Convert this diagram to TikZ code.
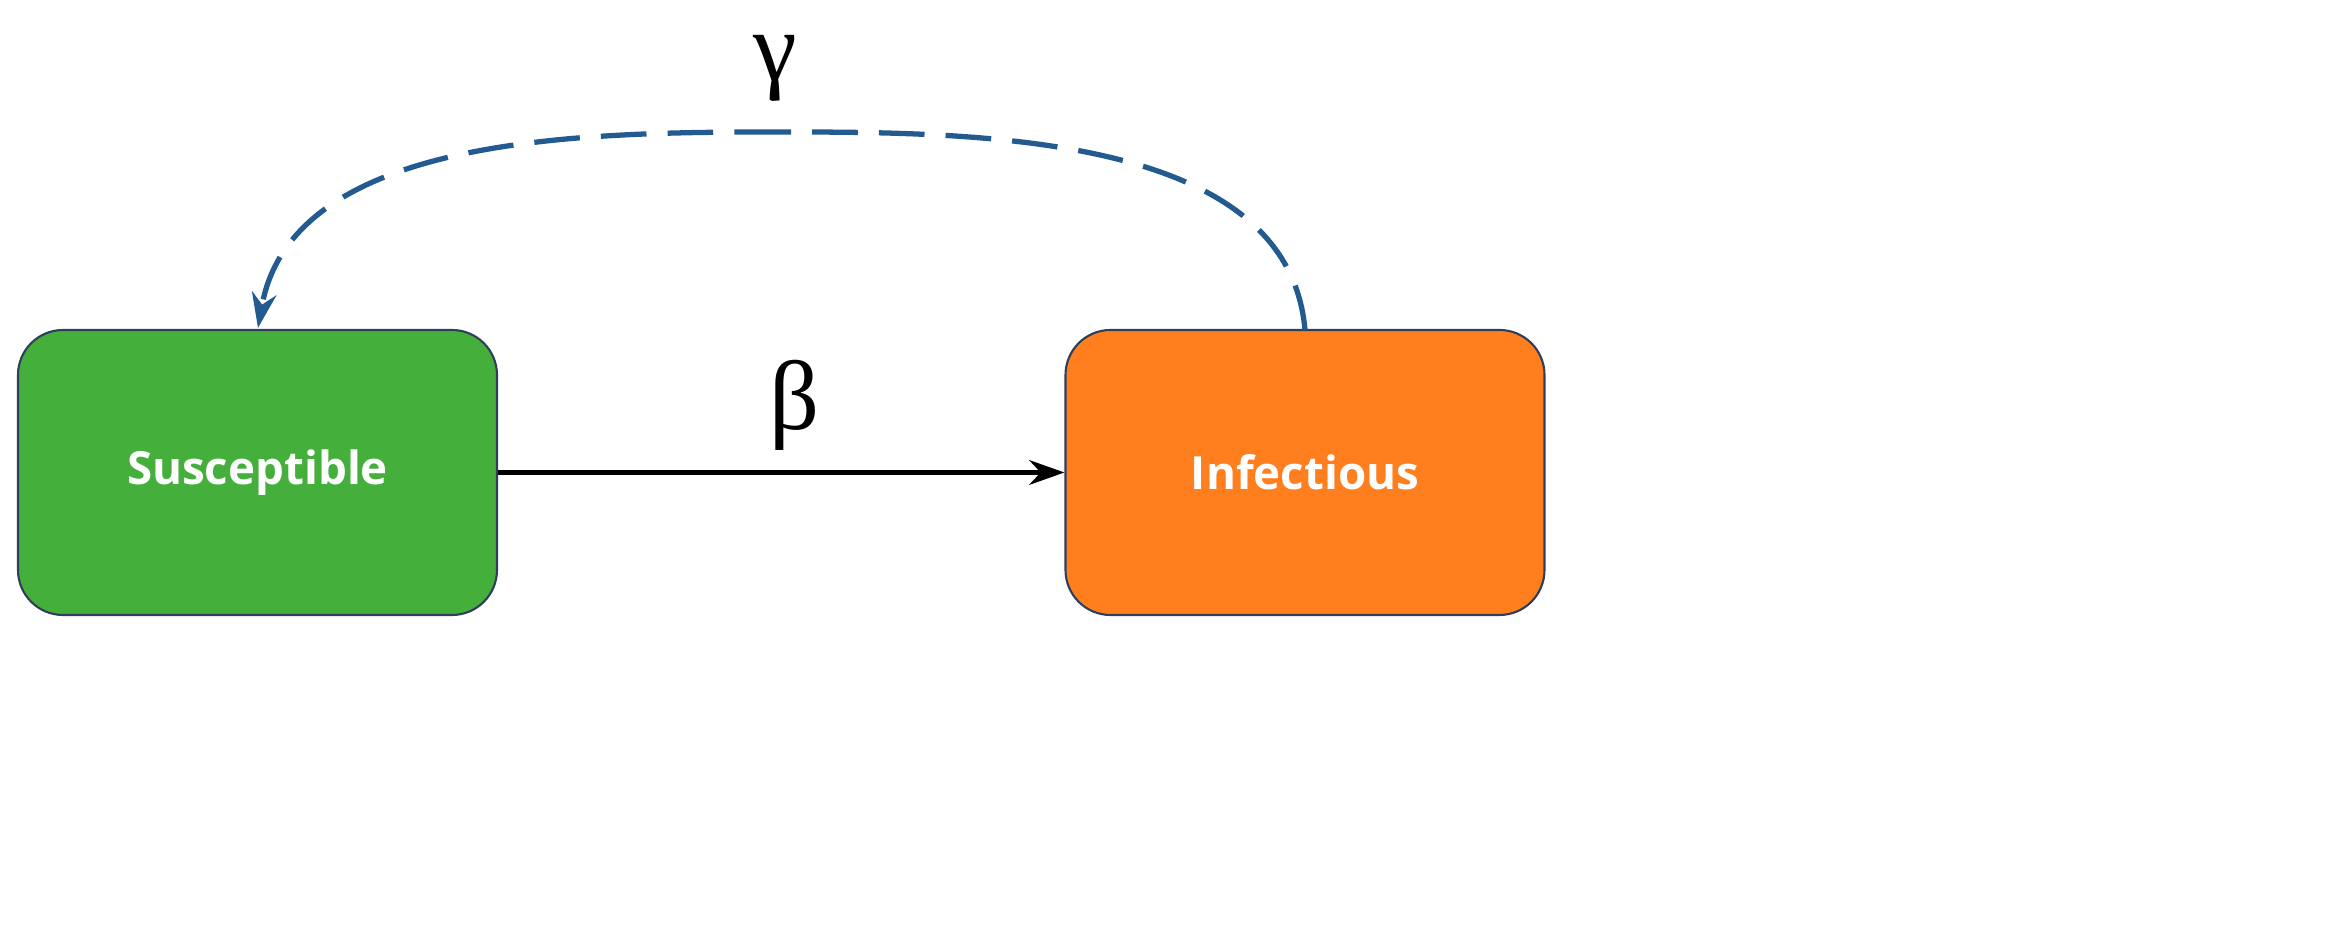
\documentclass[tikz,border=0pt]{standalone}
\usepackage{fontspec}
\setsansfont{Open Sans}
\newfontfamily\greekfont{Liberation Serif}
\usetikzlibrary{arrows.meta}
\definecolor{sgreen}{HTML}{44B03B}
\definecolor{iorange}{HTML}{FF7F1F}
\definecolor{dblue}{HTML}{235A8F}
\definecolor{edge}{HTML}{2F3E5A}
\begin{document}
\begin{tikzpicture}[
  box/.style={draw=edge,line width=0.6pt,rounded corners=0.45cm,minimum width=4.79cm,minimum height=2.85cm,
    text=white,font=\sffamily\bfseries\fontsize{13}{15}\selectfont},
  lab/.style={font=\greekfont\fontsize{28}{32}\selectfont}]
\path[use as bounding box] (0,0) rectangle (23.52,-9.51);
\node[box,fill=sgreen] (s) at (2.575,-4.725) {Susceptible};
\node[box,fill=iorange] (i) at (13.05,-4.725) {Infectious};
\draw[line width=1.5pt,-{Stealth[length=10pt,width=7pt]}] (s.east) -- (i.west);
\node[lab] (b) at (7.95,-4.05) {β};
\coordinate (top) at (7.8,-1.32);
\coordinate (st) at (13.05,-3.3);
\coordinate (en) at (2.58,-3.28);
\draw[dblue,line width=1.5pt,dash pattern=on 13pt off 6pt] (st) to[out=95,in=0,looseness=0.9] (top);
\draw[dblue,line width=1.5pt,dash pattern=on 13pt off 6pt,-{Stealth[length=10pt,width=7pt]}] (top) to[out=180,in=80,looseness=0.9] (en);
\node[lab] (g) at (7.75,-0.68) {γ};
\end{tikzpicture}
\end{document}
